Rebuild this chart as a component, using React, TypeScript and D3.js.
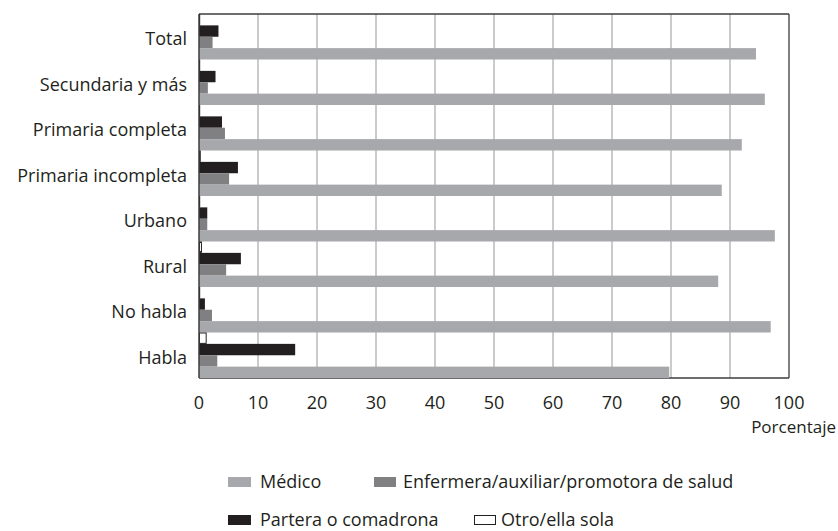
import React from 'react';
import * as d3 from 'd3';

const categories = [
  'Total',
  'Secundaria y más',
  'Primaria completa',
  'Primaria incompleta',
  'Urbano',
  'Rural',
  'No habla',
  'Habla',
];

const seriesNames = ['Otro/ella sola', 'Partera o comadrona', 'Enfermera/auxiliar/promotora de salud', 'Médico'];

const medico = [94.4, 95.9, 92.0, 88.6, 97.6, 88.0, 96.9, 79.7];
const enfermera = [2.3, 1.5, 4.4, 5.1, 1.4, 4.6, 2.2, 3.1];
const partera = [3.3, 2.8, 3.9, 6.6, 1.4, 7.1, 1.0, 16.3];
const otro = [0.2, 0.2, 0.2, 0.3, 0.2, 0.5, 0.2, 1.3];

const xTicks = [0, 10, 20, 30, 40, 50, 60, 70, 80, 90, 100];

const W = 838;
const H = 531;
const margin = { top: 14, right: 49, bottom: 153, left: 199 };
const FONT = '"Open Sans", sans-serif';

const colors: Record<string, { fill: string; stroke: string }> = {
  'Médico': { fill: '#a7a8ab', stroke: 'none' },
  'Enfermera/auxiliar/promotora de salud': { fill: '#808083', stroke: 'none' },
  'Partera o comadrona': { fill: '#231f20', stroke: 'none' },
  'Otro/ella sola': { fill: '#ffffff', stroke: '#231f20' },
};

const seriesValues: Record<string, number[]> = {
  'Médico': medico,
  'Enfermera/auxiliar/promotora de salud': enfermera,
  'Partera o comadrona': partera,
  'Otro/ella sola': otro,
};

const legendRows = [
  [
    { name: 'Médico', x: 228, textX: 260 },
    { name: 'Enfermera/auxiliar/promotora de salud', x: 374, textX: 403 },
  ],
  [
    { name: 'Partera o comadrona', x: 228, textX: 260 },
    { name: 'Otro/ella sola', x: 474, textX: 501 },
  ],
];

const App: React.FC = () => {
  const innerW = W - margin.left - margin.right;
  const innerH = H - margin.top - margin.bottom;

  const x = d3.scaleLinear().domain([0, 100]).range([0, innerW]);
  const y = d3.scaleBand<string>().domain(categories).range([0, innerH]).padding(0);
  const sub = d3.scaleBand<string>().domain(seriesNames).range([0, y.bandwidth()]).padding(0);

  return (
    <svg width={W} height={H} style={{ position: 'absolute', left: 0, top: 0, background: '#fff' }}>
      <g transform={`translate(${margin.left},${margin.top})`}>
        {/* grid */}
        {xTicks.slice(1, -1).map(t => (
          <line key={t} x1={x(t)} x2={x(t)} y1={0} y2={innerH} stroke="#b5b5b5" strokeWidth={1.4} />
        ))}
        {/* frame */}
        <line x1={0} x2={innerW} y1={0} y2={0} stroke="#3c3c3c" strokeWidth={1.3} />
        <line x1={innerW} x2={innerW} y1={0} y2={innerH} stroke="#3c3c3c" strokeWidth={1.3} />
        <line x1={0} x2={innerW} y1={innerH} y2={innerH} stroke="#3c3c3c" strokeWidth={1.3} />

        {categories.map((c, i) => (
          <g key={c} transform={`translate(0,${y(c)})`}>
            {seriesNames.map(s => {
              const v = seriesValues[s][i];
              const col = colors[s];
              const isOutline = col.stroke !== 'none';
              return (
                <rect
                  key={s}
                  x={isOutline ? 0.5 : 0}
                  y={(sub(s) ?? 0) + (isOutline ? 0.5 : 0)}
                  width={Math.max(0, x(v) - (isOutline ? 1 : 0))}
                  height={sub.bandwidth() - (isOutline ? 1 : 0)}
                  fill={col.fill}
                  stroke={col.stroke}
                  strokeWidth={1}
                />
              );
            })}
            <text
              x={-12}
              y={y.bandwidth() / 2 + 2}
              dy="0.35em"
              textAnchor="end"
              fontFamily={FONT}
              fontSize={18}
              fill="#231f20"
            >
              {c}
            </text>
          </g>
        ))}

        <line x1={0} x2={0} y1={0} y2={innerH} stroke="#3c3c3c" strokeWidth={1.5} />

        {xTicks.map(t => (
          <text
            key={t}
            x={x(t)}
            y={innerH + 31}
            textAnchor="middle"
            fontFamily={FONT}
            fontSize={18}
            fill="#231f20"
          >
            {t}
          </text>
        ))}
        <text
          x={W - margin.left - 2}
          y={innerH + 55}
          textAnchor="end"
          fontFamily={FONT}
          fontSize={17}
          fill="#231f20"
        >
          Porcentaje
        </text>
      </g>

      {legendRows.map((row, ri) => (
        <g key={ri} transform={`translate(0,${ri === 0 ? 477 : 515})`}>
          {row.map(item => {
            const col = colors[item.name];
            const isOutline = col.stroke !== 'none';
            return (
              <g key={item.name}>
                <rect
                  x={item.x + (isOutline ? 0.5 : 0)}
                  y={isOutline ? 0.5 : 0}
                  width={item.name === 'Enfermera/auxiliar/promotora de salud' ? 22 : isOutline ? 21 : 23}
                  height={isOutline ? 9 : 10}
                  fill={col.fill}
                  stroke={col.stroke}
                />
                <text x={item.textX} y={5} dy="0.35em" fontFamily={FONT} fontSize={18} fill="#231f20">
                  {item.name}
                </text>
              </g>
            );
          })}
        </g>
      ))}
    </svg>
  );
};

export default App;
